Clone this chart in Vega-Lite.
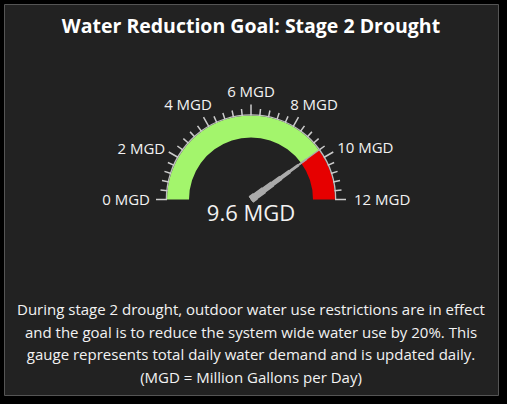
{
  "$schema": "https://vega.github.io/schema/vega-lite/v6.json",
  "width": 494,
  "height": 391,
  "autosize": "none",
  "padding": {"left": 4, "top": 4, "right": 9, "bottom": 9},
  "background": "#000000",
  "view": {"fill": "#222222", "stroke": "#555555", "strokeWidth": 1},
  "config": {"font": "Open Sans", "text": {"color": "#f2f2f2"}},
  "title": {"text": "Water Reduction Goal: Stage 2 Drought", "color": "#ffffff", "fontSize": 19.5, "fontWeight": "bold", "font": "Open Sans", "anchor": "middle", "offset": -33},
  "datasets": {
    "bands": [
      {"band": "Daily demand", "start": 0, "end": 9.6},
      {"band": "Remaining", "start": 9.6, "end": 12}
    ],
    "minorTicks": [
      {"v": 0.4}, {"v": 0.8}, {"v": 1.2}, {"v": 1.6},
      {"v": 2.4}, {"v": 2.8}, {"v": 3.2}, {"v": 3.6},
      {"v": 4.4}, {"v": 4.8}, {"v": 5.2}, {"v": 5.6},
      {"v": 6.4}, {"v": 6.8}, {"v": 7.2}, {"v": 7.6},
      {"v": 8.4}, {"v": 8.8}, {"v": 9.2}, {"v": 9.6},
      {"v": 10.4}, {"v": 10.8}, {"v": 11.2}, {"v": 11.6}
    ],
    "majorTicks": [
      {"v": 0, "label": "0 MGD"}, {"v": 2, "label": "2 MGD"}, {"v": 4, "label": "4 MGD"},
      {"v": 6, "label": "6 MGD"}, {"v": 8, "label": "8 MGD"}, {"v": 10, "label": "10 MGD"},
      {"v": 12, "label": "12 MGD"}
    ],
    "reading": [{"value": 9.6, "label": "9.6 MGD"}]
  },
  "layer": [
    {
      "data": {"name": "bands"},
      "mark": {"type": "arc", "radius": 84, "radius2": 62},
      "encoding": {
        "theta": {"field": "start", "type": "quantitative", "stack": false, "scale": {"domain": [0, 12], "range": [-1.5707963, 1.5707963]}},
        "theta2": {"field": "end"},
        "color": {"field": "band", "type": "nominal", "scale": {"domain": ["Daily demand", "Remaining"], "range": ["#a3f56c", "#e60000"]}, "legend": null}
      }
    },
    {
      "data": {"name": "bands"},
      "mark": {"type": "arc", "radius": 85.3, "radius2": 84, "color": "#bdbdbd"},
      "encoding": {
        "theta": {"field": "start", "type": "quantitative", "stack": false, "scale": {"domain": [0, 12], "range": [-1.5707963, 1.5707963]}},
        "theta2": {"field": "end"}
      }
    },
    {
      "data": {"name": "minorTicks"},
      "mark": {"type": "arc", "radius": 91, "radius2": 84, "filled": false, "color": "#cccccc", "strokeWidth": 1.5},
      "encoding": {
        "theta": {"field": "v", "type": "quantitative", "stack": false, "scale": {"domain": [0, 12], "range": [-1.5707963, 1.5707963]}},
        "theta2": {"field": "v"}
      }
    },
    {
      "data": {"name": "majorTicks"},
      "mark": {"type": "arc", "radius": 95, "radius2": 84, "filled": false, "color": "#cccccc", "strokeWidth": 1.5},
      "encoding": {
        "theta": {"field": "v", "type": "quantitative", "stack": false, "scale": {"domain": [0, 12], "range": [-1.5707963, 1.5707963]}},
        "theta2": {"field": "v"}
      }
    },
    {
      "data": {"name": "reading"},
      "mark": {"type": "arc", "radius": 5.5, "radius2": 0, "filled": false, "color": "#aaaaaa", "strokeWidth": 8, "strokeJoin": "bevel"},
      "encoding": {"theta": {"field": "value", "type": "quantitative", "stack": false}, "theta2": {"field": "value"}}
    },
    {
      "data": {"name": "reading"},
      "mark": {"type": "arc", "radius": 16, "radius2": 0, "filled": false, "color": "#aaaaaa", "strokeWidth": 7, "strokeJoin": "bevel"},
      "encoding": {"theta": {"field": "value", "type": "quantitative", "stack": false}, "theta2": {"field": "value"}}
    },
    {
      "data": {"name": "reading"},
      "mark": {"type": "arc", "radius": 26.5, "radius2": 0, "filled": false, "color": "#aaaaaa", "strokeWidth": 6, "strokeJoin": "bevel"},
      "encoding": {"theta": {"field": "value", "type": "quantitative", "stack": false}, "theta2": {"field": "value"}}
    },
    {
      "data": {"name": "reading"},
      "mark": {"type": "arc", "radius": 37, "radius2": 0, "filled": false, "color": "#aaaaaa", "strokeWidth": 5, "strokeJoin": "bevel"},
      "encoding": {"theta": {"field": "value", "type": "quantitative", "stack": false}, "theta2": {"field": "value"}}
    },
    {
      "data": {"name": "reading"},
      "mark": {"type": "arc", "radius": 48, "radius2": 0, "filled": false, "color": "#aaaaaa", "strokeWidth": 4, "strokeJoin": "bevel"},
      "encoding": {"theta": {"field": "value", "type": "quantitative", "stack": false}, "theta2": {"field": "value"}}
    },
    {
      "data": {"name": "reading"},
      "mark": {"type": "arc", "radius": 58.5, "radius2": 0, "filled": false, "color": "#aaaaaa", "strokeWidth": 3, "strokeJoin": "bevel"},
      "encoding": {"theta": {"field": "value", "type": "quantitative", "stack": false}, "theta2": {"field": "value"}}
    },
    {
      "data": {"name": "reading"},
      "mark": {"type": "arc", "radius": 69, "radius2": 0, "filled": false, "color": "#aaaaaa", "strokeWidth": 2, "strokeJoin": "bevel"},
      "encoding": {"theta": {"field": "value", "type": "quantitative", "stack": false}, "theta2": {"field": "value"}}
    },
    {
      "data": {"name": "reading"},
      "mark": {"type": "arc", "radius": 85, "radius2": 0, "filled": false, "color": "#aaaaaa", "strokeWidth": 1.2, "strokeJoin": "bevel"},
      "encoding": {"theta": {"field": "value", "type": "quantitative", "stack": false}, "theta2": {"field": "value"}}
    },
    {
      "data": {"name": "majorTicks"},
      "transform": [{"filter": {"field": "v", "oneOf": [0]}}],
      "mark": {"type": "text", "radius": 101, "align": "right", "baseline": "middle", "fontSize": 15},
      "encoding": {"theta": {"field": "v", "type": "quantitative", "stack": false}, "text": {"field": "label"}}
    },
    {
      "data": {"name": "majorTicks"},
      "transform": [{"filter": {"field": "v", "oneOf": [2]}}],
      "mark": {"type": "text", "radius": 99, "dy": -1, "align": "right", "baseline": "middle", "fontSize": 15},
      "encoding": {"theta": {"field": "v", "type": "quantitative", "stack": false}, "text": {"field": "label"}}
    },
    {
      "data": {"name": "majorTicks"},
      "transform": [{"filter": {"field": "v", "oneOf": [4]}}],
      "mark": {"type": "text", "radius": 110, "dx": -8, "dy": 1, "align": "center", "baseline": "middle", "fontSize": 15},
      "encoding": {"theta": {"field": "v", "type": "quantitative", "stack": false}, "text": {"field": "label"}}
    },
    {
      "data": {"name": "majorTicks"},
      "transform": [{"filter": {"field": "v", "oneOf": [6]}}],
      "mark": {"type": "text", "radius": 107.5, "align": "center", "baseline": "middle", "fontSize": 15},
      "encoding": {"theta": {"field": "v", "type": "quantitative", "stack": false}, "text": {"field": "label"}}
    },
    {
      "data": {"name": "majorTicks"},
      "transform": [{"filter": {"field": "v", "oneOf": [8]}}],
      "mark": {"type": "text", "radius": 110, "dx": 8, "dy": 1, "align": "center", "baseline": "middle", "fontSize": 15},
      "encoding": {"theta": {"field": "v", "type": "quantitative", "stack": false}, "text": {"field": "label"}}
    },
    {
      "data": {"name": "majorTicks"},
      "transform": [{"filter": {"field": "v", "oneOf": [10]}}],
      "mark": {"type": "text", "radius": 99.5, "dy": -1.5, "align": "left", "baseline": "middle", "fontSize": 15},
      "encoding": {"theta": {"field": "v", "type": "quantitative", "stack": false}, "text": {"field": "label"}}
    },
    {
      "data": {"name": "majorTicks"},
      "transform": [{"filter": {"field": "v", "oneOf": [12]}}],
      "mark": {"type": "text", "radius": 103, "align": "left", "baseline": "middle", "fontSize": 15},
      "encoding": {"theta": {"field": "v", "type": "quantitative", "stack": false}, "text": {"field": "label"}}
    },
    {
      "data": {"name": "reading"},
      "mark": {"type": "text", "dy": 14, "align": "center", "baseline": "middle", "fontSize": 22, "color": "#f2f2f2"},
      "encoding": {"text": {"field": "label"}}
    },
    {
      "data": {"name": "reading"},
      "mark": {
        "type": "text",
        "dy": 110.5,
        "align": "center",
        "baseline": "middle",
        "fontSize": 15,
        "lineHeight": 22.5,
        "color": "#f2f2f2",
        "text": [
          "During stage 2 drought, outdoor water use restrictions are in effect",
          "and the goal is to reduce the system wide water use by 20%. This",
          "gauge represents total daily water demand and is updated daily.",
          "(MGD = Million Gallons per Day)"
        ]
      },
      "encoding": {}
    }
  ]
}
